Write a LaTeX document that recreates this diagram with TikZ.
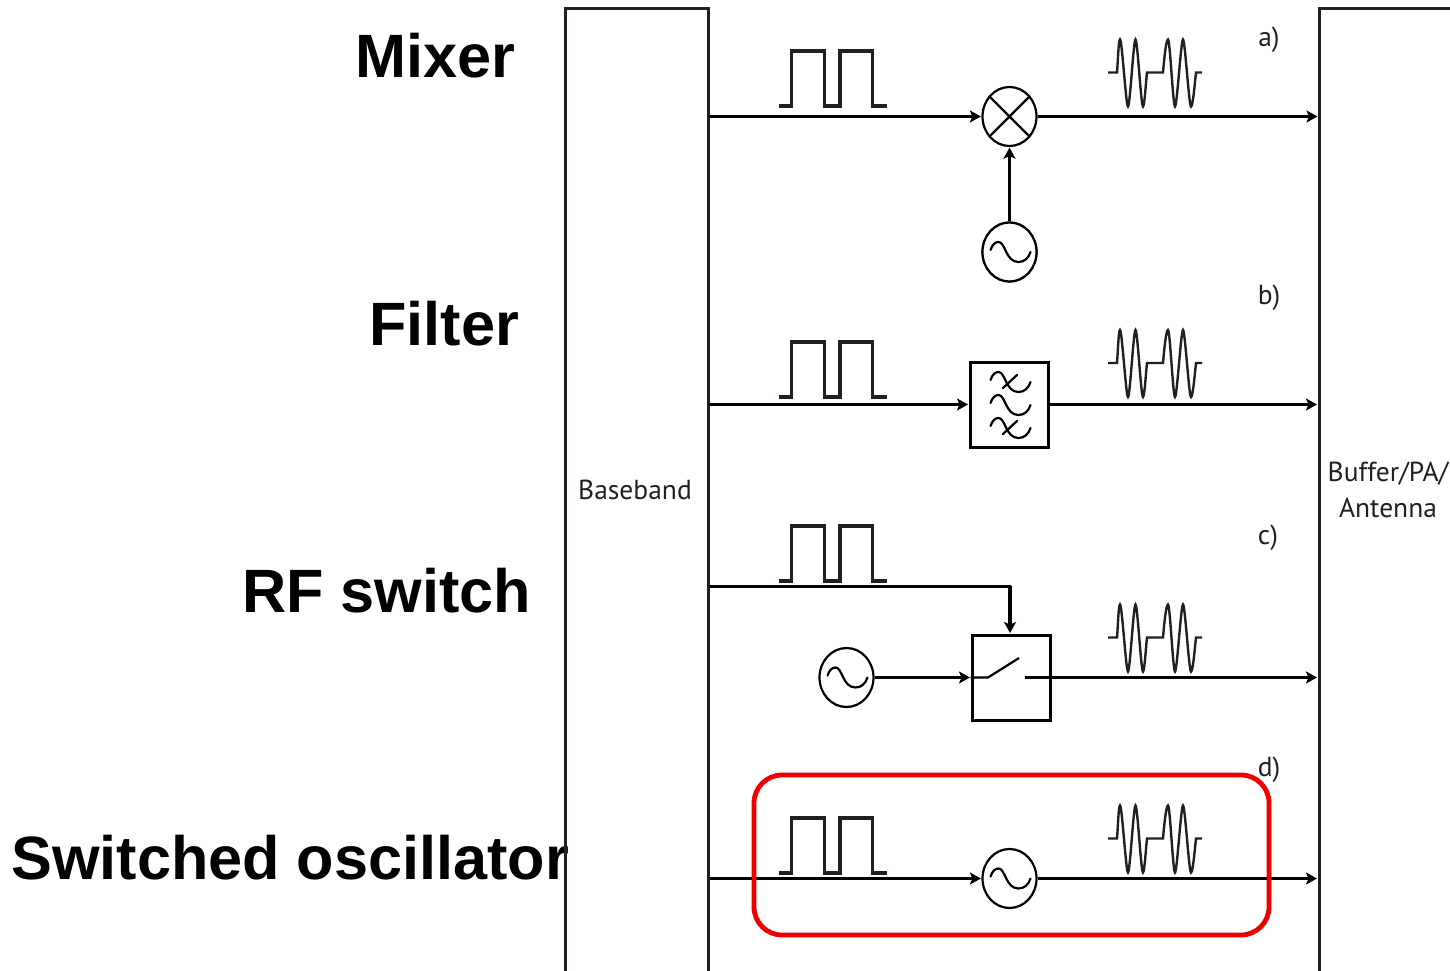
\documentclass[tikz,border=0pt]{standalone}
\usepackage{fontspec}
\setmainfont{Liberation Sans}
\newfontfamily\smallfont{PT Sans}
\usetikzlibrary{arrows.meta,shapes.geometric}
\definecolor{inkgray}{HTML}{231F20}
\tikzset{
  x=1pt,y=-1pt,
  title/.style={font=\fontsize{61.2}{61.2}\selectfont\bfseries,inner sep=0pt,anchor=base west},
  small/.style={font=\smallfont\fontsize{27.5}{27.5}\selectfont,text=inkgray,inner sep=0pt},
  sidebox/.style={draw=inkgray,line width=3pt,rectangle,inner sep=0pt},
  comp/.style={draw=black,line width=3pt,rectangle,inner sep=0pt,minimum width=78pt,minimum height=85pt,fill=white},
  round/.style={draw=black,line width=2.2pt,ellipse,inner sep=0pt,minimum width=54pt,minimum height=59pt},
  sig/.style={->,>={Stealth[length=11pt,width=12pt,inset=2.5pt]},line width=2.3pt,black,shorten >=0.5pt},
  glyph/.style={line width=2.2pt,black,line cap=round},
  wavepen/.style={line width=3.2pt,inkgray,line join=miter},
  pics/pulse/.style={code={
    \draw[wavepen] (-54,0) -- (-41,0) -- (-41,-55) -- (-8,-55) -- (-8,0) -- (7.5,0) -- (7.5,-55) -- (40,-55) -- (40,0) -- (54,0);
  }},
  pics/burst/.style={code={
    \draw[wavepen,line width=2.4pt] (-47,0) -- (-38,0) .. controls (-37,-12) and (-36.5,-33) .. (-35,-33)
      .. controls (-33,-33) and (-29,34) .. (-27,34)
      .. controls (-25,34) and (-21.5,-33) .. (-19.5,-33)
      .. controls (-17.5,-33) and (-14,34) .. (-12,34)
      .. controls (-10.5,34) and (-9,8) .. (-8,0)
      -- (8,0) .. controls (9,-12) and (11,-33) .. (13,-33)
      .. controls (15,-33) and (18,34) .. (20,34)
      .. controls (22,34) and (26,-33) .. (28,-33)
      .. controls (30,-33) and (34,34) .. (36,34)
      .. controls (38,34) and (40,8) .. (41,0) -- (47,0);
  }},
  pics/tilde/.style={code={
    \draw[glyph] (-19,-2) .. controls (-17,-8) and (-14,-10) .. (-11,-10)
      .. controls (-4,-10) and (-4,10) .. (9,10)
      .. controls (15,10) and (19,6) .. (21,0);
  }},
}
\begin{document}
\begin{tikzpicture}
\useasboundingbox (0,0) rectangle (1450,971);
% titles
\node[title] (tmixer) at (355,78) {Mixer};
\node[title] (tfilter) at (369,345) {Filter};
\node[title] (trf) at (242,612) {RF switch};
\node[title] (tso) at (11,879) {Switched oscillator};
% side boxes
\begin{scope}
\clip (0,0) rectangle (1450,971);
\node[sidebox,minimum width=143.5pt,minimum height=980pt] (bb) at (636.75,498.5) {};
\node[sidebox,minimum width=140pt,minimum height=980pt] (out) at (1389,498.5) {};
\end{scope}
\node[small] (bbt) at (635,490) {Baseband};
\node[small,align=center] (outt) at (1388,490) {Buffer/PA/\\[8pt]Antenna};
% row labels
\node[small] (la) at (1269,40) {a)};
\node[small] (lb) at (1269,298) {b)};
\node[small] (lc) at (1268,538) {c)};
\node[small] (ld) at (1269,770) {d)};
% row a
\node[round] (mix) at (1009.5,116.5) {};
\draw[glyph,line cap=butt] (mix.45) -- (mix.225) (mix.135) -- (mix.315);
\node[round] (oa) at (1009.5,252) {};
\draw[sig] (bb.east |- mix) -- (mix);
\draw[sig,shorten >=0pt] (mix.east) -- (out.west |- mix);
\draw[sig] (oa) -- (mix);
\node[round,fill=white] at (oa) {};
\pic at (oa.center) {tilde};
\pic at (832.5,106) {pulse};
\pic at (1155,72.5) {burst};
% row b
\node[comp] (fil) at (1009,404.5) {};
\foreach \dy in {-23,0,23} {\pic at (1009.5,405+\dy) {tilde};}
\foreach \dy in {-23,23} {\draw[glyph] (1017,405+\dy-7) -- (1003,405+\dy+6);}
\draw[sig] (bb.east |- fil) -- (fil);
\draw[sig] (fil.east) -- (out.west |- fil);
\pic at (832.5,397) {pulse};
\pic at (1155,363) {burst};
% row c
\node[comp,minimum width=78.5pt] (sw) at (1011.25,677.5) {};
\node[round] (oc) at (846.5,677.5) {};
\pic at (oc.center) {tilde};
\coordinate (sa) at (988,677.5);
\coordinate (sb) at (1019,658);
\coordinate (sc) at (1025,677.5);
\coordinate (ctrl) at (1010,586.3);
\draw[line width=2.6pt,black,line cap=rect] (bb.east |- ctrl) -- (ctrl);
\draw[sig,line width=3.2pt] (ctrl) -- (ctrl |- sw.north);
\draw[sig] (oc.east) -- (sw.west);
\draw[glyph,line cap=butt] (sw.west) -- (sa) -- (sb);
\draw[sig] (sc) -- (out.west |- sc);
\pic at (832.5,581) {pulse};
\pic at (1155,637.5) {burst};
% row d
\node[round] (od) at (1009.5,878.5) {};
\pic at (od.center) {tilde};
\draw[sig] (bb.east |- od) -- (od.west);
\draw[sig] (od.east) -- (out.west |- od);
\pic at (832.5,873) {pulse};
\pic at (1155,838.5) {burst};
% highlight
\node[draw={rgb,255:red,238;green,0;blue,0},line width=4.8pt,rounded corners=28pt,minimum width=515pt,minimum height=160pt,inner sep=0pt] (hl) at (1011.5,855) {};
\end{tikzpicture}
\end{document}
